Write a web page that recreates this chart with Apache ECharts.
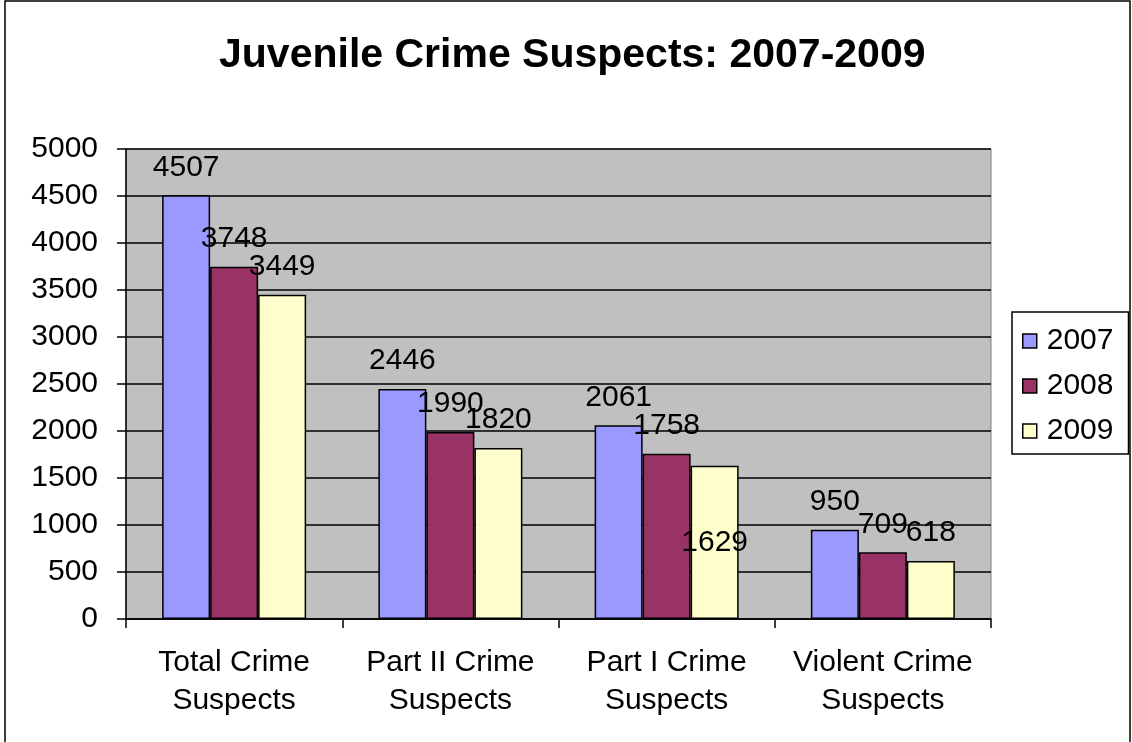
<!DOCTYPE html>
<html>
<head>
<meta charset="utf-8">
<script src="https://cdn.jsdelivr.net/npm/echarts@6/dist/echarts.min.js"></script>
<style>
  html, body { margin: 0; padding: 0; background: #fff; }
  #chart { width: 1132px; height: 742px; }
</style>
</head>
<body>
<div id="chart"></div>
<script>
const categories = ['Total Crime\nSuspects', 'Part II Crime\nSuspects', 'Part I Crime\nSuspects', 'Violent Crime\nSuspects'];
const years = ['2007', '2008', '2009'];
const values2007 = [4507, 2446, 2061, 950];
const values2008 = [3748, 1990, 1758, 709];
const values2009 = [3449, 1820, 1629, 618];
const colors = ['#9999FF', '#993366', '#FFFFCC'];

const font = 'Liberation Sans, Arial, sans-serif';
const chart = echarts.init(document.getElementById('chart'));

function makeSeries(name, data, color) {
  return {
    name: name,
    type: 'bar',
    barWidth: 48,
    barGap: '0%',
    data: data.map(function (v) {
      // Excel dropped the 1629 label down inside its bar
      if (v === 1629) {
        return { value: v, label: { offset: [0, 105] } };
      }
      return v;
    }),
    itemStyle: { color: color, borderColor: '#000', borderWidth: 1.5 },
    label: {
      show: true,
      position: 'top',
      distance: 13,
      color: '#000',
      fontFamily: font,
      fontSize: 30
    }
  };
}

chart.setOption({
  animation: false,
  backgroundColor: '#fff',
  title: {
    text: 'Juvenile Crime Suspects: 2007-2009',
    left: 214,
    top: 30,
    textStyle: { fontFamily: font, fontSize: 41, fontWeight: 'bold', color: '#000' }
  },
  legend: {
    orient: 'vertical',
    left: 1012,
    top: 312,
    data: years,
    itemWidth: 14,
    itemHeight: 14,
    itemGap: 15,
    padding: [14, 15, 8, 10],
    borderColor: '#000',
    borderWidth: 1.5,
    backgroundColor: '#fff',
    icon: 'rect',
    itemStyle: { borderColor: '#000', borderWidth: 1.5 },
    textStyle: { fontFamily: font, fontSize: 30, color: '#000', padding: [0, 0, 0, 5] }
  },
  grid: {
    left: 126,
    right: 141,
    top: 149,
    bottom: 123,
    show: true,
    backgroundColor: '#C0C0C0',
    borderColor: '#808080',
    borderWidth: 1
  },
  xAxis: {
    type: 'category',
    data: categories,
    axisLine: { lineStyle: { color: '#000', width: 1.5 } },
    axisTick: { show: true, length: 9, lineStyle: { color: '#000', width: 1.5 } },
    axisLabel: {
      interval: 0,
      margin: 25,
      color: '#000',
      fontFamily: font,
      fontSize: 30,
      lineHeight: 38
    }
  },
  yAxis: {
    type: 'value',
    min: 0,
    max: 5000,
    interval: 500,
    axisLine: { show: true, lineStyle: { color: '#000', width: 1.5 } },
    axisTick: { show: true, length: 9, lineStyle: { color: '#000', width: 1.5 } },
    splitLine: { lineStyle: { color: '#000', width: 1.5 } },
    axisLabel: {
      margin: 28,
      color: '#000',
      fontFamily: font,
      fontSize: 30,
      formatter: function (v) { return String(v); }
    }
  },
  graphic: [{
    type: 'rect',
    shape: { x: 5, y: 1, width: 1125, height: 760 },
    style: { fill: 'none', stroke: '#000', lineWidth: 1.5 },
    silent: true
  }],
  series: [
    makeSeries(years[0], values2007, colors[0]),
    makeSeries(years[1], values2008, colors[1]),
    makeSeries(years[2], values2009, colors[2])
  ]
});
</script>
</body>
</html>
